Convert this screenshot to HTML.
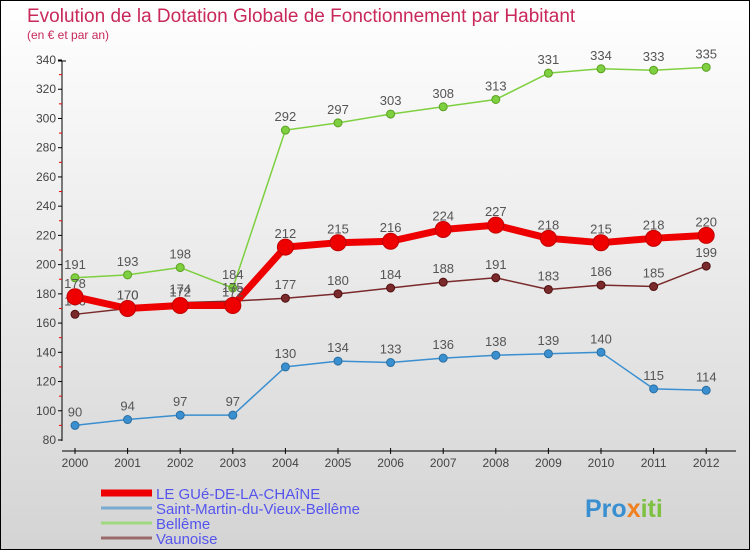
<!DOCTYPE html>
<html><head><meta charset="utf-8"><style>
body{margin:0}
#c{width:748px;height:548px;border:1px solid #000;background:linear-gradient(#ffffff,#d4d4d4);position:relative;overflow:hidden;font-family:"Liberation Sans",sans-serif}
</style></head><body>
<div id="c">
<svg id="s" width="748" height="548"></svg>
</div>
<script>
const years=["2000","2001","2002","2003","2004","2005","2006","2007","2008","2009","2010","2011","2012"];
const gue=[178,170,172,172,212,215,216,224,227,218,215,218,220];
const smvb=[90,94,97,97,130,134,133,136,138,139,140,115,114];
const belleme=[191,193,198,184,292,297,303,308,313,331,334,333,335];
const vaunoise=[166,170,174,175,177,180,184,188,191,183,186,185,199];
const yTicks=[80,100,120,140,160,180,200,220,240,260,280,300,320,340];
const NS="http://www.w3.org/2000/svg";
const s=document.getElementById('s');
function el(t,a,p){const e=document.createElementNS(NS,t);for(const k in a)e.setAttribute(k,a[k]);(p||s).appendChild(e);return e;}
const X=i=>74+i*52.6;
const Y=v=>439-(v-80)*1.4615;
let t=el('text',{x:26,y:21,'font-size':19,fill:'#c8285a'});t.textContent="Evolution de la Dotation Globale de Fonctionnement par Habitant";

t=el('text',{x:26,y:38,'font-size':12,fill:'#c8285a'});t.textContent="(en € et par an)";

let a=el('line',{x1:61,y1:60,x2:61,y2:440,stroke:'#000'});
a=el('line',{x1:61,y1:450,x2:735,y2:450,stroke:'#000'});
el('line',{x1:57,y1:60,x2:65,y2:60,stroke:'#000'});
yTicks.forEach((v,i)=>{const y=Y(v);el('line',{x1:57,y1:y,x2:61,y2:y,stroke:'#000'});
 if(i<yTicks.length-1)el('line',{x1:58,y1:Y(v+10),x2:61,y2:Y(v+10),stroke:'#e00'});
 const tx=el('text',{x:55,y:y+4,'font-size':12,fill:'#444','text-anchor':'end'});tx.textContent=v;
 });
years.forEach((yr,i)=>{const x=X(i);el('line',{x1:x,y1:447,x2:x,y2:453,stroke:'#000'});
 const tx=el('text',{x:x,y:466,'font-size':12,fill:'#444','text-anchor':'middle'});tx.textContent=yr;
 });
function series(d,col,w,r,name,dark){const g=el('g',{});
 el('polyline',{points:d.map((v,i)=>X(i)+','+Y(v)).join(' '),fill:'none',stroke:col,'stroke-width':w,'stroke-linejoin':'round'},g);
 d.forEach((v,i)=>{const c=el('circle',{cx:X(i),cy:Y(v),r:r,fill:col,stroke:dark,'stroke-width':1},g);
  
  const tx=el('text',{x:X(i),y:Y(v)-9,'font-size':13,fill:'#555','text-anchor':'middle'},g);tx.textContent=v;});}
series(smvb,'#3a8fd0',1.5,4,'saint-martin-series','#2a6fa0');
series(belleme,'#7ed040',1.5,4,'belleme-series','#5aa020');
series(vaunoise,'#7a2a2a',1.5,4,'vaunoise-series','#501010');
series(gue,'#ee0000',7,8,'le-gue-series','#c00000');
const leg=[["LE GUé-DE-LA-CHAîNE",'#ee0000',7],["Saint-Martin-du-Vieux-Bellême",'#7aaad0',3],["Bellême",'#a0d880',3],["Vaunoise",'#9a6a6a',3]];
leg.forEach((l,i)=>{const y=492+i*15;const g=el('g',{});
 el('line',{x1:100,y1:y,x2:151,y2:y,stroke:l[1],'stroke-width':l[2]},g);
 const tx=el('text',{x:155,y:y+6,'font-size':15,fill:'#5555ee'},g);tx.textContent=l[0];});
const lg=el('text',{x:584,y:516,'font-size':25,'font-weight':'bold',fill:'#3a8fd0'});
lg.innerHTML='<tspan fill="#3a8fd0">Pro</tspan><tspan fill="#f08020">x</tspan><tspan fill="#7ec040">iti</tspan>';
</script>
</body></html>
